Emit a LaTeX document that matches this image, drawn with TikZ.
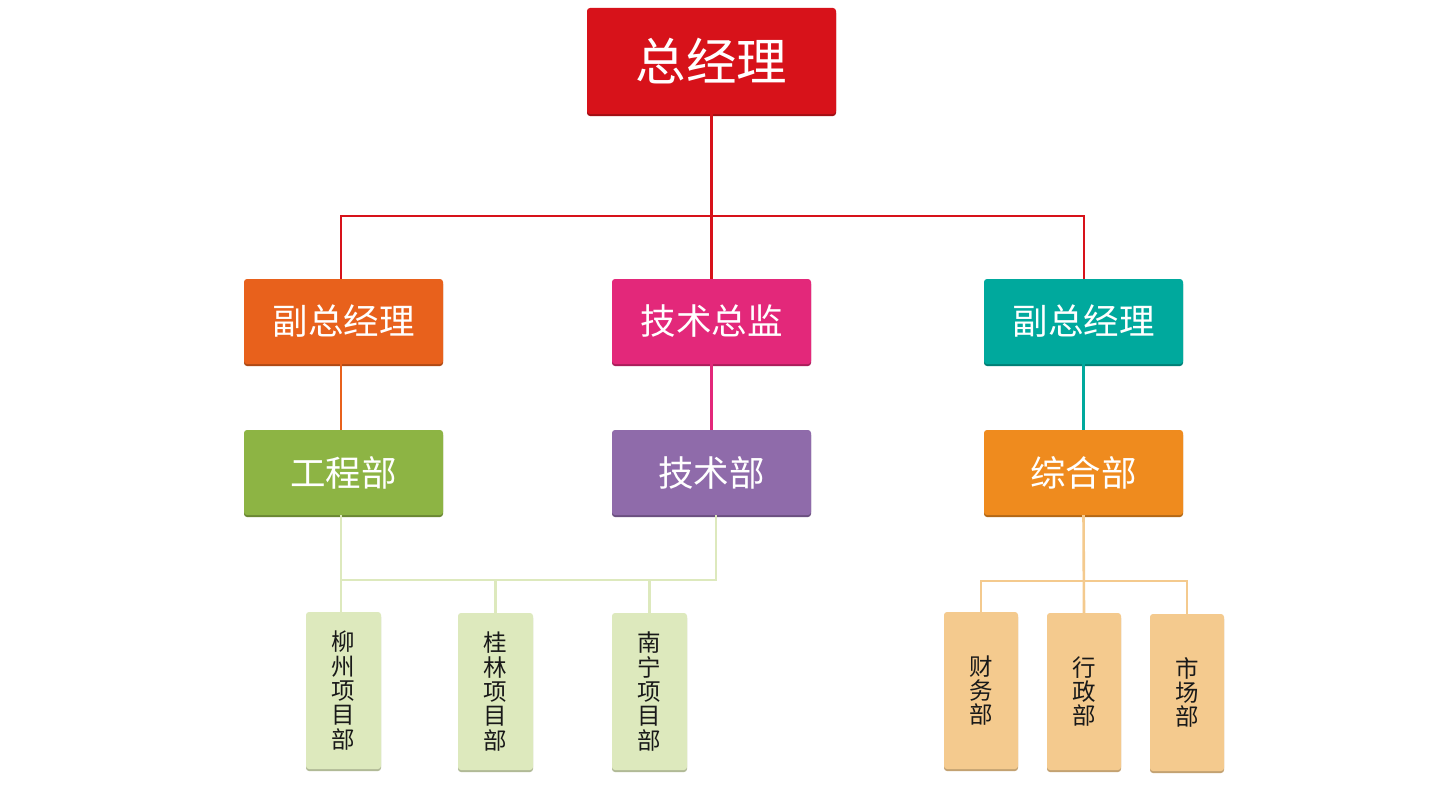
\documentclass[tikz,border=0pt]{standalone}
\usepackage{fontspec}
\newfontfamily\cjk{Noto Sans CJK SC}
\usetikzlibrary{shadows}
\definecolor{cRed}{HTML}{D7121A}
\definecolor{cOrange}{HTML}{E8611C}
\definecolor{cPink}{HTML}{E3287A}
\definecolor{cTeal}{HTML}{00A99D}
\definecolor{cGreen}{HTML}{8DB444}
\definecolor{cPurple}{HTML}{8F6BAA}
\definecolor{cAmber}{HTML}{EF8B1E}
\definecolor{cLGreen}{HTML}{DDE9BD}
\definecolor{cLOrange}{HTML}{F4CA8E}
\tikzset{
  boxbase/.style={rectangle, rounded corners=3pt, inner sep=0pt, text=white, align=center},
  topbox/.style={boxbase, fill=#1, minimum width=249pt, minimum height=106pt,
    font=\cjk\fontsize{50.5}{54}\selectfont,
    general shadow={fill=#1!75!black, shadow yshift=-2pt}},
  midbox/.style={boxbase, fill=#1, minimum width=199pt, minimum height=85pt,
    font=\cjk\fontsize{35.5}{40}\selectfont,
    general shadow={fill=#1!75!black, shadow yshift=-2pt}},
  leafbox/.style={boxbase, fill=#1, text=black!90, minimum width=75pt, minimum height=157pt,
    font=\cjk\fontsize{23.5}{24.4}\selectfont,
    general shadow={fill=#1!80!black, shadow yshift=-2pt}},
  link/.style={draw=#1, line width=2.6pt},
}
\begin{document}
\begin{tikzpicture}[x=1pt,y=-1pt]
\useasboundingbox[fill=white] (0,0) rectangle (1440,800);

% nodes
\node[topbox=cRed] (gm) at (711.5,61) {总经理};
\node[midbox=cOrange] (vp1) at (343.5,321.5) {副总经理};
\node[midbox=cPink] (cto) at (711.5,321.5) {技术总监};
\node[midbox=cTeal] (vp2) at (1083.5,321.5) {副总经理};
\node[midbox=cGreen] (eng) at (343.5,472.5) {工程部};
\node[midbox=cPurple] (tech) at (711.5,472.5) {技术部};
\node[midbox=cAmber] (gen) at (1083.5,472.5) {综合部};

\node[leafbox=cLGreen] (p1) at (343.5,690.5) {柳\\州\\项\\目\\部};
\node[leafbox=cLGreen] (p2) at (495.5,691.5) {桂\\林\\项\\目\\部};
\node[leafbox=cLGreen] (p3) at (649.5,691.5) {南\\宁\\项\\目\\部};
\node[leafbox=cLOrange, minimum width=74pt] (d1) at (981,690.5) {财\\务\\部};
\node[leafbox=cLOrange, minimum width=74pt] (d2) at (1084,691.5) {行\\政\\部};
\node[leafbox=cLOrange, minimum width=74pt] (d3) at (1187,692.5) {市\\场\\部};

% junction coordinates
\coordinate (jL) at (341,216);
\coordinate (jR) at (1084,216);
\coordinate (g1) at (341,580);
\coordinate (g2) at (716,580);
\coordinate (o1) at (981,581);
\coordinate (o2) at (1187,581);

% connectors
\draw[link=cRed] (gm.south) -- (cto.north);
\draw[link=cRed] (jL |- vp1.north) -- (jL) -- (jR) -- (jR |- vp2.north);
\draw[link=cOrange] (jL |- vp1.south) -- (jL |- eng.north);
\draw[link=cPink] (cto.south) -- (tech.north);
\draw[link=cTeal] (vp2.south) -- (gen.north);
\draw[link=cLGreen] (jL |- eng.south) -- (jL |- p1.north);
\draw[link=cLGreen] (g2 |- tech.south) -- (g2) -- (g1);
\draw[link=cLGreen] (p2.north) -- (p2.north |- g1);
\draw[link=cLGreen] (p3.north) -- (p3.north |- g1);
\draw[link=cLOrange] (gen.south) -- (d2.north);
\draw[link=cLOrange] (d1.north) -- (o1) -- (o2) -- (d3.north);
\end{tikzpicture}
\end{document}
